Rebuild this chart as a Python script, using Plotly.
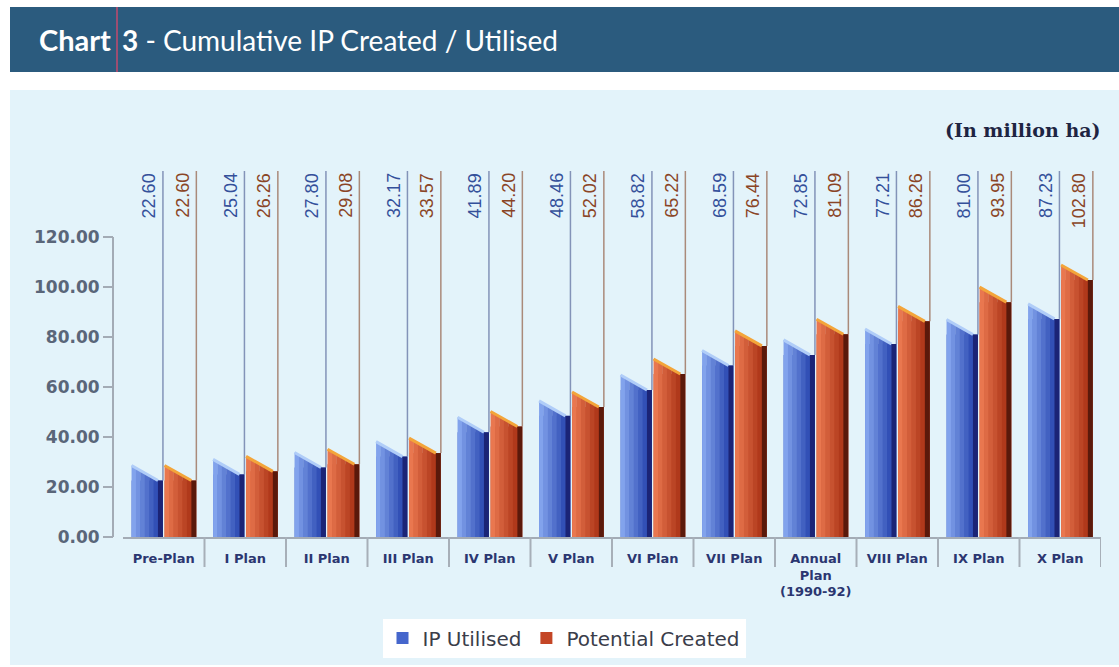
import plotly.graph_objects as go

# ---- data -------------------------------------------------------------
categories = ["Pre-Plan", "I Plan", "II Plan", "III Plan", "IV Plan", "V Plan",
              "VI Plan", "VII Plan", "Annual<br>Plan<br>(1990-92)", "VIII Plan",
              "IX Plan", "X Plan"]
ip_utilised = [22.60, 25.04, 27.80, 32.17, 41.89, 48.46, 58.82, 68.59, 72.85, 77.21, 81.00, 87.23]
potential_created = [22.60, 26.26, 29.08, 33.57, 44.20, 52.02, 65.22, 76.44, 81.09, 86.26, 93.95, 102.80]
y_tick_values = [0, 20, 40, 60, 80, 100, 120]

# ---- page geometry ----------------------------------------------------
W, H = 1119, 667
PLOT_L, PLOT_R, PLOT_T, PLOT_B = 113, 1101, 171, 537
AXIS_X0 = 123          # where the category axis starts
Y_TOP = 146.4          # axis value at the top of the plotting area
N_CAT = len(categories)
UNIT = (PLOT_R - AXIS_X0) / N_CAT   # pixels per category
SIDE = 5 / UNIT                     # depth of the dark side face
SLANT = 6.0                         # rise of the bevelled top


def fx(px):
    return (px - PLOT_L) / (PLOT_R - PLOT_L)


def fy(py):
    return (PLOT_B - py) / (PLOT_B - PLOT_T)


def mix(c1, c2, t):
    a = [int(c1[i:i + 2], 16) for i in (1, 3, 5)]
    b = [int(c2[i:i + 2], 16) for i in (1, 3, 5)]
    return "#" + "".join(f"{round(a[k] + (b[k] - a[k]) * t):02x}" for k in range(3))


series = [
    dict(name="IP Utilised", values=ip_utilised, offset=-0.395, width=0.385,
         base="#4566cc", light="#82a3ec", dark="#3250b6", side="#1b2476",
         top="#b0cdf8", label="#34509a", leader="#8393b8"),
    dict(name="Potential Created", values=potential_created, offset=0.01, width=0.39,
         base="#c44626", light="#e9774f", dark="#b0391b", side="#5a190b",
         top="#f3a53a", label="#8a4526", leader="#aa8a7a"),
]

fig = go.Figure()
shapes = []
annotations = []

# panel backgrounds and header band
shapes.append(dict(type="rect", xref="paper", yref="paper", layer="below",
                   x0=fx(10), x1=fx(W + 5), y0=fy(665), y1=fy(90),
                   fillcolor="#e3f3fa", line=dict(width=0)))
shapes.append(dict(type="rect", xref="paper", yref="paper", layer="below",
                   x0=fx(10), x1=fx(W + 5), y0=fy(72), y1=fy(7),
                   fillcolor="#2b5b7e", line=dict(width=0)))
shapes.append(dict(type="line", xref="paper", yref="paper",
                   x0=fx(117), x1=fx(117), y0=fy(72), y1=fy(7),
                   line=dict(color="#c4486e", width=1.5)))

N_STRIP = 6
for s in series:
    xs = list(range(N_CAT))
    fig.add_trace(go.Bar(
        x=xs, y=s["values"], name=s["name"], offset=s["offset"], width=s["width"],
        marker=dict(color=s["base"], line=dict(width=0)),
    ))
    for i, v in enumerate(s["values"]):
        xl = i + s["offset"]
        xr = xl + s["width"]
        xf = xr - SIDE
        # leader line from the label down to the bar
        shapes.append(dict(type="line", xref="x", yref="y", layer="below",
                           x0=xr, x1=xr, y0=v, y1=Y_TOP,
                           line=dict(color=s["leader"], width=1.5)))
        # shaded front face with a bevelled top
        for k in range(N_STRIP):
            xa = xl + (xf - xl) * k / N_STRIP
            xb = xl + (xf - xl) * (k + 1) / N_STRIP
            ta = v + SLANT * (1 - k / N_STRIP)
            tb = v + SLANT * (1 - (k + 1) / N_STRIP)
            shapes.append(dict(type="path", xref="x", yref="y",
                               path=f"M{xa},0 L{xa},{ta} L{xb + 0.004},{tb} L{xb + 0.004},0 Z",
                               fillcolor=mix(s["light"], s["dark"], k / (N_STRIP - 1)),
                               line=dict(width=0)))
        # dark side face
        shapes.append(dict(type="rect", xref="x", yref="y",
                           x0=xf, x1=xr, y0=0, y1=v,
                           fillcolor=s["side"], line=dict(width=0)))
        # highlighted top edge
        shapes.append(dict(type="line", xref="x", yref="y",
                           x0=xl, x1=xf, y0=v + SLANT, y1=v,
                           line=dict(color=s["top"], width=3)))
        # value label
        annotations.append(dict(x=xr - 0.025, y=Y_TOP, xref="x", yref="y",
                                xanchor="right", yanchor="top", textangle=-90,
                                text=f"{v:.2f}", showarrow=False,
                                font=dict(family="Liberation Sans", size=18, color=s["label"])))

# category separators below the axis
for i in range(N_CAT):
    shapes.append(dict(type="line", xref="x", yref="paper",
                       x0=i + 0.5, x1=i + 0.5, y0=0, y1=fy(567),
                       line=dict(color="#a7afb8", width=2)))

# value axis line (0 to 120 only)
shapes.append(dict(type="line", xref="paper", yref="paper",
                   x0=0, x1=0, y0=0, y1=120 / Y_TOP,
                   line=dict(color="#a3abb5", width=2)))

# header text and unit note
annotations.append(dict(x=fx(37), y=fy(40), xref="paper", yref="paper",
                        xanchor="left", yanchor="middle", showarrow=False,
                        text="<b>Chart</b>",
                        font=dict(family="Lato", size=29, color="white")))
annotations.append(dict(x=fx(120), y=fy(40), xref="paper", yref="paper",
                        xanchor="left", yanchor="middle", showarrow=False,
                        text="<b>3</b> - Cumulative IP Created / Utilised",
                        font=dict(family="Lato", size=28, color="white")))
annotations.append(dict(x=fx(1103), y=fy(130), xref="paper", yref="paper",
                        xanchor="right", yanchor="middle", showarrow=False,
                        text="<b>(In million ha)</b>",
                        font=dict(family="DejaVu Serif", size=19, color="#1e2442")))

fig.update_layout(
    width=W, height=H,
    margin=dict(l=PLOT_L, r=W - PLOT_R, t=PLOT_T, b=H - PLOT_B, autoexpand=False),
    paper_bgcolor="white", plot_bgcolor="rgba(0,0,0,0)",
    barmode="overlay",
    showlegend=True,
    legend=dict(orientation="h", x=fx(564), xanchor="center", y=fy(638), yanchor="middle",
                bgcolor="white", font=dict(family="DejaVu Sans", size=20, color="#3a3d4a"),
                itemsizing="constant"),
    xaxis=dict(domain=[fx(AXIS_X0), 1], range=[-0.5, N_CAT - 0.5],
               tickvals=list(range(N_CAT)), ticktext=categories, ticks="",
               showline=True, linecolor="#a3abb5", linewidth=2,
               showgrid=False, zeroline=False, ticklabelstandoff=8,
               tickfont=dict(family="DejaVu Sans", size=13, color="#2b3670", weight="bold")),
    yaxis=dict(anchor="free", position=0, range=[0, Y_TOP],
               tickvals=y_tick_values, ticktext=[f"{t:.2f}" for t in y_tick_values],
               ticks="outside", ticklen=10, tickwidth=2, tickcolor="#a3abb5",
               showline=False, showgrid=False, zeroline=False,
               tickfont=dict(family="DejaVu Sans", size=17, color="#5a6679", weight="bold")),
    shapes=shapes, annotations=annotations,
)

fig.write_html("out.html")
